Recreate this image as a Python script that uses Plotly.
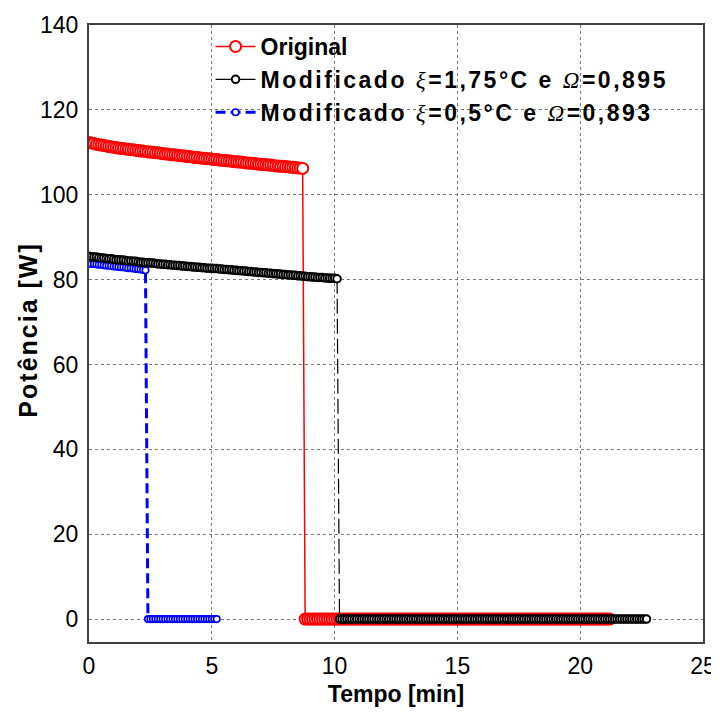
import plotly.graph_objects as go

# ---------------- data ----------------
tempo = [
    0.0, 0.1, 0.2, 0.3, 0.4, 0.5, 0.6, 0.7, 0.8, 0.9,
    1.0, 1.1, 1.2, 1.3, 1.4, 1.5, 1.6, 1.7, 1.8, 1.9,
    2.0, 2.1, 2.2, 2.3, 2.4, 2.5, 2.6, 2.7, 2.8, 2.9,
    3.0, 3.1, 3.2, 3.3, 3.4, 3.5, 3.6, 3.7, 3.8, 3.9,
    4.0, 4.1, 4.2, 4.3, 4.4, 4.5, 4.6, 4.7, 4.8, 4.9,
    5.0, 5.1, 5.2, 5.3, 5.4, 5.5, 5.6, 5.7, 5.8, 5.9,
    6.0, 6.1, 6.2, 6.3, 6.4, 6.5, 6.6, 6.7, 6.8, 6.9,
    7.0, 7.1, 7.2, 7.3, 7.4, 7.5, 7.6, 7.7, 7.8, 7.9,
    8.0, 8.1, 8.2, 8.3, 8.4, 8.5, 8.6, 8.7, 8.8, 8.9,
    9.0, 9.1, 9.2, 9.3, 9.4, 9.5, 9.6, 9.7, 9.8, 9.9,
    10.0, 10.1, 10.2, 10.3, 10.4, 10.5, 10.6, 10.7, 10.8, 10.9,
    11.0, 11.1, 11.2, 11.3, 11.4, 11.5, 11.6, 11.7, 11.8, 11.9,
    12.0, 12.1, 12.2, 12.3, 12.4, 12.5, 12.6, 12.7, 12.8, 12.9,
    13.0, 13.1, 13.2, 13.3, 13.4, 13.5, 13.6, 13.7, 13.8, 13.9,
    14.0, 14.1, 14.2, 14.3, 14.4, 14.5, 14.6, 14.7, 14.8, 14.9,
    15.0, 15.1, 15.2, 15.3, 15.4, 15.5, 15.6, 15.7, 15.8, 15.9,
    16.0, 16.1, 16.2, 16.3, 16.4, 16.5, 16.6, 16.7, 16.8, 16.9,
    17.0, 17.1, 17.2, 17.3, 17.4, 17.5, 17.6, 17.7, 17.8, 17.9,
    18.0, 18.1, 18.2, 18.3, 18.4, 18.5, 18.6, 18.7, 18.8, 18.9,
    19.0, 19.1, 19.2, 19.3, 19.4, 19.5, 19.6, 19.7, 19.8, 19.9,
    20.0, 20.1, 20.2, 20.3, 20.4, 20.5, 20.6, 20.7, 20.8, 20.9,
    21.0, 21.1, 21.2, 21.3, 21.4, 21.5, 21.6, 21.7, 21.8, 21.9,
    22.0, 22.1, 22.2, 22.3, 22.4, 22.5, 22.6, 22.7,
]

# Original: on-phase 0.0-8.7 min, off-phase 8.8-21.2 min
original_on = [
    112.3, 112.2, 112.1, 111.9, 111.8, 111.7, 111.6, 111.5, 111.4, 111.3,
    111.2, 111.1, 111.0, 110.9, 110.9, 110.8, 110.7, 110.6, 110.6, 110.5,
    110.4, 110.3, 110.3, 110.2, 110.1, 110.1, 110.0, 109.9, 109.9, 109.8,
    109.7, 109.6, 109.6, 109.5, 109.4, 109.4, 109.3, 109.2, 109.2, 109.1,
    109.0, 109.0, 108.9, 108.8, 108.8, 108.7, 108.6, 108.6, 108.5, 108.5,
    108.4, 108.3, 108.3, 108.2, 108.1, 108.1, 108.0, 108.0, 107.9, 107.8,
    107.8, 107.7, 107.7, 107.6, 107.5, 107.5, 107.4, 107.4, 107.3, 107.2,
    107.2, 107.1, 107.1, 107.0, 107.0, 106.9, 106.8, 106.8, 106.7, 106.7,
    106.6, 106.6, 106.5, 106.5, 106.4, 106.3, 106.3, 106.2,
]
original_off = [
    0, 0, 0, 0, 0, 0, 0, 0, 0, 0, 0, 0, 0, 0, 0, 0, 0, 0, 0, 0, 0, 0, 0, 0, 0,
    0, 0, 0, 0, 0, 0, 0, 0, 0, 0, 0, 0, 0, 0, 0, 0, 0, 0, 0, 0, 0, 0, 0, 0, 0,
    0, 0, 0, 0, 0, 0, 0, 0, 0, 0, 0, 0, 0, 0, 0, 0, 0, 0, 0, 0, 0, 0, 0, 0, 0,
    0, 0, 0, 0, 0, 0, 0, 0, 0, 0, 0, 0, 0, 0, 0, 0, 0, 0, 0, 0, 0, 0, 0, 0, 0,
    0, 0, 0, 0, 0, 0, 0, 0, 0, 0, 0, 0, 0, 0, 0, 0, 0, 0, 0, 0, 0, 0, 0, 0, 0,
]

# Modificado xi=1,75 C: on-phase 0.0-10.1 min, off-phase 10.2-22.7 min
mod175_on = [
    85.5, 85.4, 85.3, 85.3, 85.2, 85.1, 85.1, 85.0, 84.9, 84.9,
    84.8, 84.7, 84.7, 84.6, 84.6, 84.5, 84.4, 84.4, 84.3, 84.3,
    84.2, 84.1, 84.1, 84.0, 84.0, 83.9, 83.9, 83.8, 83.7, 83.7,
    83.6, 83.6, 83.5, 83.5, 83.4, 83.4, 83.3, 83.3, 83.2, 83.2,
    83.1, 83.1, 83.0, 83.0, 82.9, 82.9, 82.8, 82.8, 82.7, 82.7,
    82.7, 82.6, 82.6, 82.5, 82.5, 82.4, 82.4, 82.3, 82.3, 82.2,
    82.2, 82.1, 82.1, 82.0, 82.0, 81.9, 81.9, 81.8, 81.8, 81.7,
    81.7, 81.6, 81.6, 81.5, 81.5, 81.4, 81.4, 81.3, 81.3, 81.2,
    81.2, 81.1, 81.1, 81.0, 81.0, 80.9, 80.9, 80.8, 80.8, 80.7,
    80.7, 80.6, 80.6, 80.5, 80.5, 80.5, 80.4, 80.4, 80.3, 80.3,
    80.3, 80.2,
]
mod175_off = [
    0, 0, 0, 0, 0, 0, 0, 0, 0, 0, 0, 0, 0, 0, 0, 0, 0, 0, 0, 0, 0, 0, 0, 0, 0,
    0, 0, 0, 0, 0, 0, 0, 0, 0, 0, 0, 0, 0, 0, 0, 0, 0, 0, 0, 0, 0, 0, 0, 0, 0,
    0, 0, 0, 0, 0, 0, 0, 0, 0, 0, 0, 0, 0, 0, 0, 0, 0, 0, 0, 0, 0, 0, 0, 0, 0,
    0, 0, 0, 0, 0, 0, 0, 0, 0, 0, 0, 0, 0, 0, 0, 0, 0, 0, 0, 0, 0, 0, 0, 0, 0,
    0, 0, 0, 0, 0, 0, 0, 0, 0, 0, 0, 0, 0, 0, 0, 0, 0, 0, 0, 0, 0, 0, 0, 0, 0,
    0,
]

# Modificado xi=0,5 C: on-phase 0.0-2.3 min, off-phase 2.4-5.2 min
mod05_on = [
    83.8, 83.7, 83.7, 83.6, 83.5, 83.5, 83.4, 83.3, 83.3, 83.2,
    83.1, 83.1, 83.0, 82.9, 82.9, 82.8, 82.7, 82.7, 82.6, 82.5,
    82.5, 82.4, 82.3, 82.2,
]
mod05_off = [
    0, 0, 0, 0, 0, 0, 0, 0, 0, 0,
    0, 0, 0, 0, 0, 0, 0, 0, 0, 0,
    0, 0, 0, 0, 0, 0, 0, 0, 0,
]

x_ticks = [0, 5, 10, 15, 20, 25]
y_ticks = [0, 20, 40, 60, 80, 100, 120, 140]

GREEK = '<span style="font-family:Liberation Serif;font-style:italic;font-weight:normal">{}</span>'
legend_names = [
    "Original",
    "Modificado " + GREEK.format("ξ") + "=1,75°C e " + GREEK.format("Ω") + "=0,895",
    "Modificado " + GREEK.format("ξ") + "=0,5°C e " + GREEK.format("Ω") + "=0,893",
]
x_title = "Tempo [min]"
y_title = "Potência [W]"

# ---------------- build series ----------------
n_o_on, n_o_off = len(original_on), len(original_off)
t_orig = tempo[:n_o_on + n_o_off]
p_orig = original_on + original_off

n_a_on, n_a_off = len(mod175_on), len(mod175_off)
t_a_on = tempo[:n_a_on]
t_a_off = tempo[n_a_on:n_a_on + n_a_off]

n_b_on, n_b_off = len(mod05_on), len(mod05_off)
t_b = tempo[:n_b_on + n_b_off]
p_b = mod05_on + mod05_off

FONT = "Liberation Sans, Arial, sans-serif"
LS = 'letter-spacing:2.5px'


def leg(name, spaced):
    if not spaced:
        return name
    return f'<span style="{LS}">{name}</span>'


fig = go.Figure()

# blue (drawn first so it sits underneath)
fig.add_trace(go.Scatter(
    x=t_b, y=p_b, mode="lines+markers",
    name=leg(legend_names[2], True), legendrank=3,
    line=dict(color="#0000FF", width=3, dash="10px,5px"),
    marker=dict(symbol="circle", size=6.5, color="white",
                line=dict(color="#0000FF", width=1.6)),
))

# red
fig.add_trace(go.Scatter(
    x=t_orig, y=p_orig, mode="lines+markers",
    name=leg(legend_names[0], False), legendrank=1,
    line=dict(color="#FF0000", width=1.5),
    marker=dict(symbol="circle", size=11, color="white",
                line=dict(color="#FF0000", width=2)),
))

# black drop segment (dashed)
fig.add_trace(go.Scatter(
    x=[t_a_on[-1], t_a_off[0]], y=[mod175_on[-1], mod175_off[0]],
    mode="lines", showlegend=False, hoverinfo="skip",
    line=dict(color="black", width=1.2, dash="15px,5px"),
))

# black
fig.add_trace(go.Scatter(
    x=t_a_on + [None] + t_a_off, y=mod175_on + [None] + mod175_off,
    mode="lines+markers", connectgaps=False,
    name=leg(legend_names[1], True), legendrank=2,
    line=dict(color="black", width=1.2),
    marker=dict(symbol="circle", size=7.5, color="white",
                line=dict(color="black", width=2)),
))

axis_common = dict(
    showgrid=True, gridcolor="#7a7a7a", gridwidth=1, griddash="dot",
    showline=True, mirror=True, linecolor="#404040", linewidth=2,
    zeroline=False, ticks="", automargin=False,
    tickfont=dict(family=FONT, size=23, color="black"),
)

# the page body adds an 8px margin, so the figure is sized to fit the window
fig.update_layout(
    width=711, height=705,
    margin=dict(l=81, r=16, t=17, b=71),
    paper_bgcolor="white", plot_bgcolor="white",
    font=dict(family=FONT, color="black"),
    xaxis=dict(range=[0, 25], tickvals=x_ticks, **axis_common,
               ticklabelstandoff=2,
               title=dict(text=f"<b>{x_title}</b>",
                          font=dict(family=FONT, size=23), standoff=8)),
    yaxis=dict(range=[-5.4, 140], tickvals=y_ticks, **axis_common,
               ticklabelstandoff=4),
    legend=dict(x=0.198, y=1.0, xanchor="left", yanchor="top",
                bgcolor="rgba(0,0,0,0)", borderwidth=0,
                font=dict(family=FONT, size=23, color="black", weight="bold"),
                itemwidth=40, tracegroupgap=0),
    showlegend=True,
    annotations=[dict(
        text=f'<b><span style="letter-spacing:2px">{y_title}</span></b>',
        xref="paper", yref="paper", x=-0.099, y=0.505,
        xanchor="center", yanchor="middle", textangle=-90, showarrow=False,
        font=dict(family=FONT, size=25, color="black"),
    )],
)

fig.write_html("out.html")
